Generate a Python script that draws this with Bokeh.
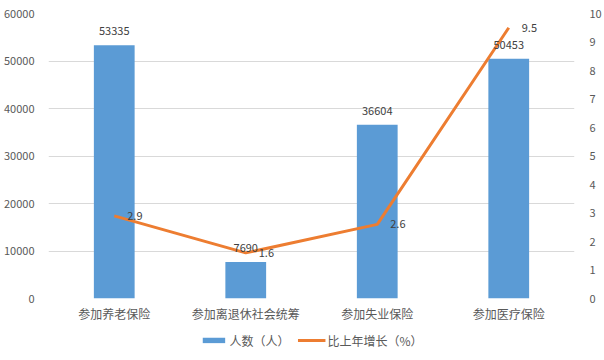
from bokeh.plotting import figure
from bokeh.layouts import column
from bokeh.models import ColumnDataSource, Range1d, LinearAxis, Legend, LegendItem, FixedTicker
from bokeh.core.properties import value
from bokeh.embed import file_html
from bokeh.resources import INLINE

categories = ["参加养老保险", "参加离退休社会统筹", "参加失业保险", "参加医疗保险"]
people = [53335, 7690, 36604, 50453]
growth = [2.9, 1.6, 2.6, 9.5]
people_labels = ["53335", "7690", "36604", "50453"]
growth_labels = ["2.9", "1.6", "2.6", "9.5"]
left_ticks = [0, 10000, 20000, 30000, 40000, 50000, 60000]
right_ticks = [0, 1, 2, 3, 4, 5, 6, 7, 8, 9, 10]
series_names = ["人数（人）", "比上年增长（%）"]

FONT = "Noto Sans CJK SC"
BAR_COLOR = "#5B9BD5"
LINE_COLOR = "#ED7D31"
src = ColumnDataSource(dict(cat=categories, people=people, growth=growth,
                            pl=people_labels, gl=growth_labels))

p = figure(x_range=categories, y_range=Range1d(0, 60000),
           width=604, height=326, output_backend="svg", toolbar_location=None,
           min_border_left=46, min_border_right=28, min_border_top=13, min_border_bottom=28)
p.outline_line_color = None
p.background_fill_color = "white"
p.border_fill_color = "white"
p.x_range.range_padding = 0

p.extra_y_ranges = {"pct": Range1d(0, 10)}

bars = p.vbar(x="cat", top="people", width=0.31, source=src, color=BAR_COLOR, line_color=None)
line = p.line(x="cat", y="growth", source=src, y_range_name="pct", color=LINE_COLOR, line_width=3)

p.text(x="cat", y="people", text="pl", source=src, text_align="center", text_baseline="middle",
       y_offset=-14, text_font=value(FONT), text_font_size="11px", text_color="#404040")
p.text(x="cat", y="growth", text="gl", source=src, y_range_name="pct", text_align="left",
       text_baseline="middle", x_offset=13, text_font=value(FONT), text_font_size="11px",
       text_color="#404040")

p.yaxis[0].ticker = FixedTicker(ticks=left_ticks)
p.yaxis.axis_line_color = None
p.yaxis.major_tick_line_color = None
p.yaxis.minor_tick_line_color = None
p.yaxis.major_label_text_font = FONT
p.yaxis.major_label_text_font_size = "11px"
p.yaxis.major_label_text_color = "#595959"
p.yaxis.major_label_standoff = 8

right = LinearAxis(y_range_name="pct", ticker=FixedTicker(ticks=right_ticks))
right.axis_line_color = None
right.major_tick_line_color = None
right.minor_tick_line_color = None
right.major_label_text_font = FONT
right.major_label_text_font_size = "11px"
right.major_label_text_color = "#595959"
right.major_label_standoff = 9
p.add_layout(right, "right")

p.xaxis.axis_line_color = None
p.xaxis.major_tick_line_color = None
p.xaxis.minor_tick_line_color = None
p.xaxis.major_label_text_font = FONT
p.xaxis.major_label_text_font_size = "12px"
p.xaxis.major_label_text_color = "#595959"
p.xaxis.major_label_standoff = 0

p.xgrid.grid_line_color = None
p.ygrid.grid_line_color = "#D9D9D9"
p.ygrid.grid_line_width = 1

# legend strip below the chart: same series, kept out of this strip's visible area
lg = figure(width=604, height=28, output_backend="svg", toolbar_location=None,
            x_range=categories, y_range=Range1d(-120000, -60000),
            min_border=0, min_border_left=0, min_border_right=0, min_border_top=0, min_border_bottom=0)
lg.axis.visible = False
lg.grid.visible = False
lg.outline_line_color = None
lg.border_fill_color = "white"
lg.background_fill_color = "white"
lg_bar = lg.vbar(x="cat", top="people", width=0.0, source=src, color=BAR_COLOR, line_color=None)
lg_line = lg.line(x="cat", y="growth", source=src, color=LINE_COLOR, line_width=3)

legend = Legend(items=[LegendItem(label=series_names[0], renderers=[lg_bar]),
                       LegendItem(label=series_names[1], renderers=[lg_line])],
                orientation="horizontal", location="center")
legend.border_line_color = None
legend.background_fill_alpha = 0
legend.label_text_font = FONT
legend.label_text_font_size = "12px"
legend.label_text_color = "#595959"
legend.glyph_width = 28
legend.glyph_height = 7
legend.label_standoff = 2
legend.spacing = 8
legend.padding = 2
legend.margin = 0
lg.add_layout(legend, "center")

layout = column(p, lg, spacing=0)
open("out.html", "w").write(file_html(layout, INLINE))
